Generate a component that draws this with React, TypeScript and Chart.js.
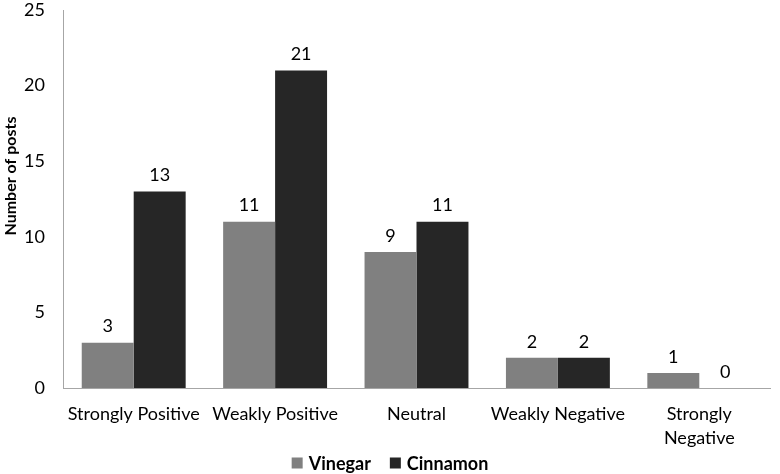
import React, { useEffect, useRef } from "react";
import { Chart, registerables } from "chart.js";

Chart.register(...registerables);

const categories: (string | string[])[] = [
  "Strongly Positive",
  "Weakly Positive",
  "Neutral",
  "Weakly Negative",
  ["Strongly", "Negative"],
];
const vinegar = [3, 11, 9, 2, 1];
const cinnamon = [13, 21, 11, 2, 0];
const seriesNames = ["Vinegar", "Cinnamon"];
const seriesColors = ["#808080", "#262626"];
const yTicks = [0, 5, 10, 15, 20, 25];
const yTitle = "Number of posts";

const FONT = "Lato, 'Open Sans', sans-serif";

const valueLabels = {
  id: "valueLabels",
  afterDatasetsDraw(chart: any) {
    const ctx = chart.ctx;
    ctx.save();
    ctx.font = `18px ${FONT}`;
    ctx.fillStyle = "#000";
    ctx.textAlign = "center";
    ctx.textBaseline = "middle";
    chart.data.datasets.forEach((ds: any, i: number) => {
      const meta = chart.getDatasetMeta(i);
      meta.data.forEach((bar: any, j: number) => {
        ctx.fillText(String(ds.data[j]), bar.x, bar.y - 16);
      });
    });
    ctx.restore();
  },
};

const yTitlePlugin = {
  id: "yTitlePlugin",
  afterDraw(chart: any) {
    const ctx = chart.ctx;
    ctx.save();
    ctx.font = `bold 16px ${FONT}`;
    ctx.fillStyle = "#000";
    ctx.textAlign = "center";
    ctx.textBaseline = "middle";
    ctx.translate(11, 176);
    ctx.rotate(-Math.PI / 2);
    ctx.fillText(yTitle, 0, 0);
    ctx.restore();
  },
};

const bottomLegend = {
  id: "bottomLegend",
  afterDraw(chart: any) {
    const ctx = chart.ctx;
    ctx.save();
    ctx.font = `bold 18px ${FONT}`;
    ctx.textBaseline = "middle";
    ctx.textAlign = "left";
    const box = 11;
    const gap = 6;
    const itemGap = 19;
    const items = chart.data.datasets.map((ds: any) => ({
      text: ds.label,
      color: ds.backgroundColor,
      w: box + gap + ctx.measureText(ds.label).width,
    }));
    const total =
      items.reduce((a: number, it: any) => a + it.w, 0) +
      itemGap * (items.length - 1);
    let x = (chart.width - total) / 2;
    const y = 463;
    items.forEach((it: any) => {
      ctx.fillStyle = it.color;
      ctx.fillRect(x, y - box / 2, box, box);
      ctx.fillStyle = "#000";
      ctx.fillText(it.text, x + box + gap, y + 1);
      x += it.w + itemGap;
    });
    ctx.restore();
  },
};

export default function App() {
  const ref = useRef<HTMLCanvasElement>(null);
  useEffect(() => {
    document.body.style.margin = "0";
    const chart = new Chart(ref.current!, {
      type: "bar",
      data: {
        labels: categories,
        datasets: [
          {
            label: seriesNames[0],
            data: vinegar,
            backgroundColor: seriesColors[0],
            categoryPercentage: 0.735,
            barPercentage: 1,
          },
          {
            label: seriesNames[1],
            data: cinnamon,
            backgroundColor: seriesColors[1],
            categoryPercentage: 0.735,
            barPercentage: 1,
          },
        ],
      },
      options: {
        animation: false,
        responsive: false,
        layout: { padding: { top: 0, right: 10, left: 0, bottom: 18 } },
        plugins: {
          legend: { display: false },
          tooltip: { enabled: false },
        },
        scales: {
          x: {
            grid: { display: false, drawTicks: false },
            border: { color: "#a6a6a6", width: 1 },
            ticks: {
              color: "#000",
              font: { family: FONT, size: 18, lineHeight: 1.35 },
              padding: 14,
              maxRotation: 0,
              autoSkip: false,
            },
            afterFit: (s: any) => {
              s.height = 68;
            },
          },
          y: {
            min: 0,
            max: 25,
            afterBuildTicks: (s: any) => {
              s.ticks = yTicks.map((v) => ({ value: v }));
            },
            grid: { display: false, drawTicks: false },
            border: { color: "#a6a6a6", width: 1 },
            ticks: {
              color: "#000",
              font: { family: FONT, size: 18 },
              padding: 18,
            },
            title: { display: false },
            afterFit: (s: any) => {
              s.width = 63;
              s.paddingTop = 10;
              s.paddingBottom = 0;
            },
          },
        },
      },
      plugins: [valueLabels, yTitlePlugin, bottomLegend],
    });
    return () => chart.destroy();
  }, []);
  return <canvas ref={ref} width={780} height={474} />;
}
